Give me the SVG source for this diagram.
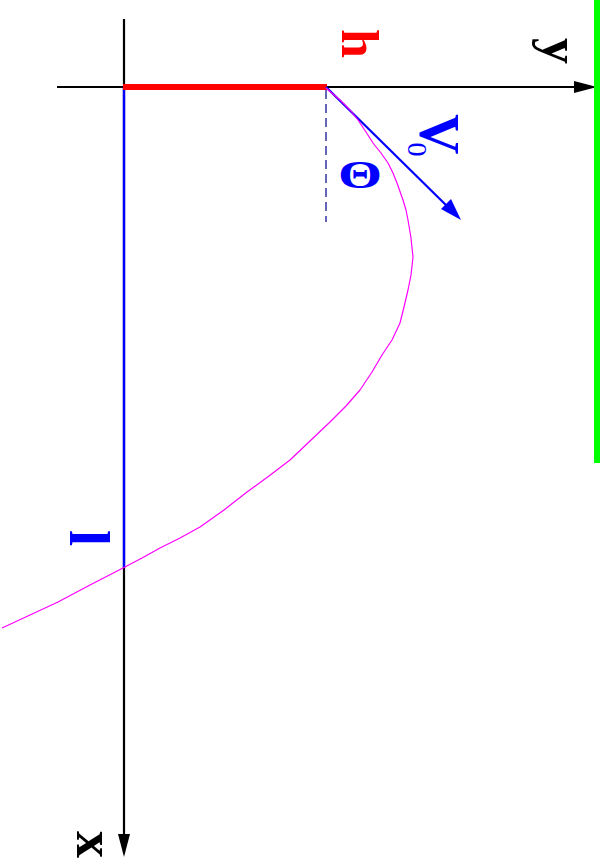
<svg xmlns="http://www.w3.org/2000/svg" width="600" height="867" viewBox="0 0 600 867">
<style>
.lbl{font-family:"Liberation Serif","Times New Roman",serif;font-weight:bold}
.ax{stroke:#000;stroke-width:2.2;fill:none}
</style>
<rect width="600" height="867" fill="#fff"/>
<g id="connectors">
  <line class="ax" x1="124" y1="19" x2="124" y2="840"/>
  <polygon points="124,857 118,834 130,834" fill="#000"/>
  <line class="ax" x1="57" y1="87" x2="580" y2="87"/>
  <polygon points="597,87 574,81 574,93" fill="#000"/>
  <line x1="124" y1="87" x2="124" y2="568" stroke="#0000ff" stroke-width="2.4"/>
  <line x1="123" y1="87" x2="327" y2="87" stroke="#ff0000" stroke-width="6"/>
  <line x1="326" y1="90" x2="326" y2="222" stroke="#00008b" stroke-width="1.2" stroke-dasharray="9,5"/>
  <line x1="326" y1="87" x2="450" y2="209" stroke="#0000ff" stroke-width="2.2"/>
  <polygon points="461,220 441,209 451,199" fill="#0000ff"/>
  <polyline fill="none" stroke="#ff00ff" stroke-width="1.2" stroke-linejoin="round" points="326,88 340,100 350,110 358,120 366,132 373,143 381,153 388,163 393,173 397,183 403,200 406,210 408,220 411,238 412,248 413,257 412,266 411,275 408,290 404,307 400,323 392,340 382,355 372,372 360,390 346,406 330,422 310,441 290,460 269,476 247,492 224,510 200,527 180,538 160,548 142,558 123,568 90,585 58,602 30,615 2,628"/>
  <line x1="597" y1="0" x2="597" y2="463" stroke="#00ff00" stroke-width="6"/>
</g>
<g id="label-h"><text class="lbl" fill="#ff0000" font-size="52" transform="translate(342,29) rotate(90)">h</text></g>
<g id="label-y"><text class="lbl" fill="#000" font-size="52" transform="translate(543,38) rotate(90)">y</text></g>
<g id="label-v0"><text class="lbl" fill="#0000ff" font-size="56" transform="translate(420,114) rotate(90)">V<tspan font-size="28" font-weight="normal" dx="-12" dy="12">0</tspan></text></g>
<g id="label-theta"><text class="lbl" fill="#0000ff" font-size="42" transform="translate(338,188) scale(1.35,0.95)">Θ</text></g>
<g id="label-l"><text class="lbl" fill="#0000ff" font-size="58" transform="translate(70,530) rotate(90)">l</text></g>
<g id="label-x"><text class="lbl" fill="#000" font-size="54" transform="translate(77,831) rotate(90)">x</text></g>
</svg>
